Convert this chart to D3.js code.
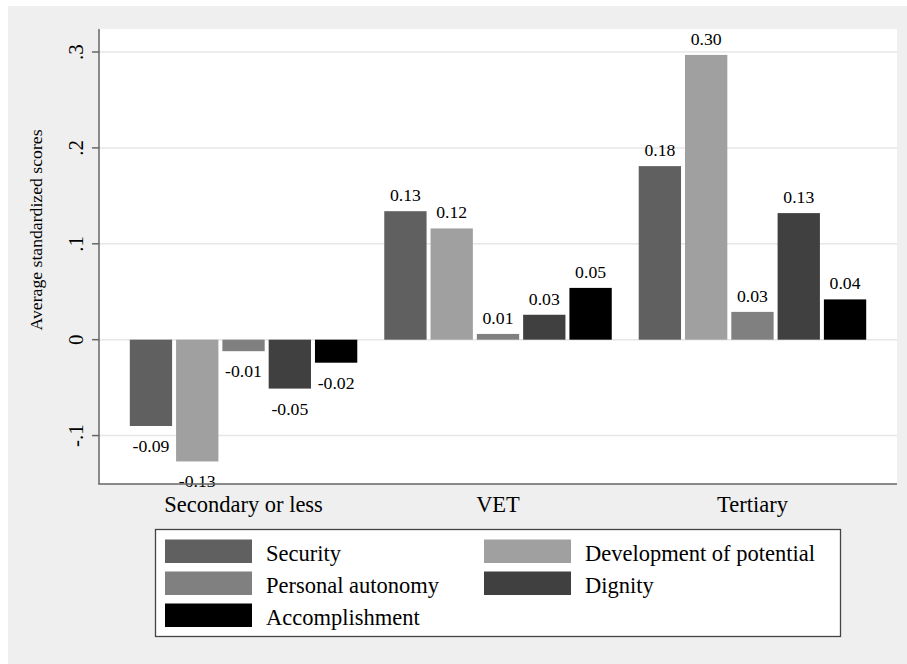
<!DOCTYPE html>
<html>
<head>
<meta charset="utf-8">
<script src="https://cdn.jsdelivr.net/npm/d3@7"></script>
<style>
  html, body { margin: 0; padding: 0; background: #ffffff; }
  svg { display: block; }
  text { font-family: "Liberation Serif", "Times New Roman", serif; fill: #000; }
</style>
</head>
<body>
<svg id="chart" width="907" height="664"></svg>
<script>
// Education groups on the x axis
const categories = ["Secondary or less", "VET", "Tertiary"];

// Work-value dimensions (one bar per dimension in each group)
const seriesNames = ["Security", "Development of potential", "Personal autonomy", "Dignity", "Accomplishment"];
const seriesColors = ["#606060", "#a0a0a0", "#808080", "#404040", "#000000"];

// Average standardized scores, one array per dimension, in category order
const security      = [-0.090, 0.134, 0.181];
const development   = [-0.127, 0.116, 0.297];
const autonomy      = [-0.012, 0.006, 0.029];
const dignity       = [-0.051, 0.026, 0.132];
const accomplishment = [-0.024, 0.054, 0.042];
const seriesValues = [security, development, autonomy, dignity, accomplishment];

// Y axis ticks and their printed labels
const yTicks = [-0.1, 0, 0.1, 0.2, 0.3];
const yTickLabels = ["-.1", "0", ".1", ".2", ".3"];
const yTitle = "Average standardized scores";

const svg = d3.select("#chart");

// Outer graph region
svg.append("rect").attr("x", 8).attr("y", 6).attr("width", 899).attr("height", 658).attr("fill", "#efefef");

const plot = { left: 99, right: 897, top: 29, bottom: 484 };

// Plot region
svg.append("rect")
  .attr("x", plot.left).attr("y", plot.top)
  .attr("width", plot.right - plot.left).attr("height", plot.bottom - plot.top)
  .attr("fill", "#ffffff");

const y = d3.scaleLinear().domain([-0.1505, 0.324]).range([plot.bottom, plot.top]);

const x0 = d3.scaleBand().domain(categories)
  .range([plot.left, plot.right]).paddingInner(0.106).paddingOuter(0.121);

const x1 = d3.scaleBand().domain(seriesNames)
  .range([0, x0.bandwidth()]).paddingInner(0.086).paddingOuter(0);

// Horizontal grid lines
svg.append("g").selectAll("line").data(yTicks).join("line")
  .attr("x1", plot.left).attr("x2", plot.right)
  .attr("y1", d => y(d)).attr("y2", d => y(d))
  .attr("stroke", "#e6e6e6").attr("stroke-width", 1.5);

// Flatten into bar records
const bars = [];
categories.forEach((c, ci) => {
  seriesNames.forEach((s, si) => {
    bars.push({ cat: c, series: s, si, value: seriesValues[si][ci] });
  });
});

svg.append("g").selectAll("rect").data(bars).join("rect")
  .attr("x", d => x0(d.cat) + x1(d.series))
  .attr("width", x1.bandwidth())
  .attr("y", d => y(Math.max(0, d.value)))
  .attr("height", d => Math.abs(y(d.value) - y(0)))
  .attr("fill", d => seriesColors[d.si]);

// Value labels outside the end of each bar (plain hyphen for negatives)
const fmt = v => d3.format(".2f")(v).replace("\u2212", "-");
svg.append("g").selectAll("text").data(bars).join("text")
  .attr("x", d => x0(d.cat) + x1(d.series) + x1.bandwidth() / 2)
  .attr("y", d => d.value >= 0 ? y(d.value) - 10 : y(d.value) + 26)
  .attr("text-anchor", "middle")
  .style("font-size", "17.7px")
  .text(d => fmt(d.value));

// Axes lines
svg.append("line").attr("x1", plot.left).attr("x2", plot.left)
  .attr("y1", plot.top).attr("y2", plot.bottom)
  .attr("stroke", "#666").attr("stroke-width", 1.5);
svg.append("line").attr("x1", plot.left - 0.75).attr("x2", plot.right)
  .attr("y1", plot.bottom).attr("y2", plot.bottom)
  .attr("stroke", "#666").attr("stroke-width", 1.5);

// Y ticks
svg.append("g").selectAll("line").data(yTicks).join("line")
  .attr("x1", plot.left - 7).attr("x2", plot.left)
  .attr("y1", d => y(d)).attr("y2", d => y(d))
  .attr("stroke", "#666").attr("stroke-width", 1.5);

svg.append("g").selectAll("text").data(yTicks).join("text")
  .attr("transform", d => `translate(83,${y(d)}) rotate(-90)`)
  .attr("text-anchor", "middle")
  .style("font-size", "21px")
  .text((d, i) => yTickLabels[i]);

// Y title
svg.append("text")
  .attr("transform", "translate(42,230) rotate(-90)")
  .attr("text-anchor", "middle")
  .style("font-size", "17.7px")
  .text(yTitle);

// Category labels
svg.append("g").selectAll("text").data(categories).join("text")
  .attr("x", d => x0(d) + x0.bandwidth() / 2)
  .attr("y", 512)
  .attr("text-anchor", "middle")
  .style("font-size", "22.5px")
  .text(d => d);

// Legend
const legend = svg.append("g");
legend.append("rect")
  .attr("x", 155.5).attr("y", 529.5).attr("width", 685).attr("height", 107)
  .attr("fill", "#ffffff").attr("stroke", "#444").attr("stroke-width", 1.3);

const legCols = [165, 484];
const legRows = [539.5, 571.5, 603.5];
seriesNames.forEach((s, i) => {
  const cx = legCols[i % 2];
  const ry = legRows[Math.floor(i / 2)];
  legend.append("rect").attr("x", cx).attr("y", ry).attr("width", 87).attr("height", 23.5)
    .attr("fill", seriesColors[i]);
  legend.append("text").attr("x", cx + 101).attr("y", ry + 21.5)
    .style("font-size", "22.5px").text(s);
});
</script>
</body>
</html>
